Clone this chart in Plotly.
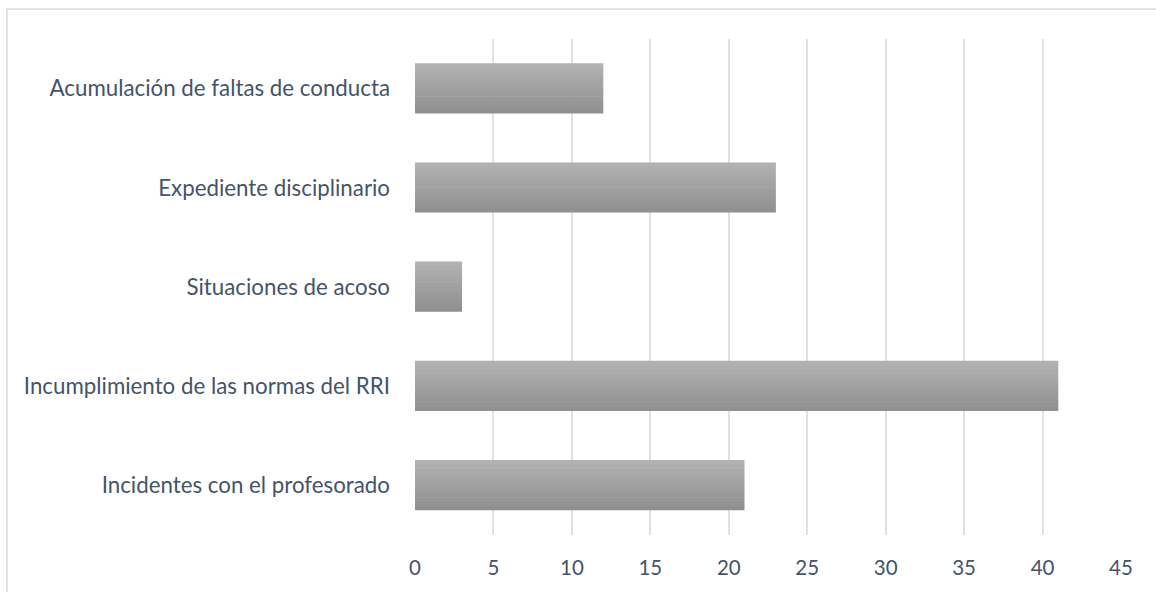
import plotly.graph_objects as go

categories = ["Incidentes con el profesorado", "Incumplimiento de las normas del RRI",
              "Situaciones de acoso", "Expediente disciplinario",
              "Acumulación de faltas de conducta"]
values = [21, 41, 3, 23, 12]
x_ticks = [0, 5, 10, 15, 20, 25, 30, 35, 40, 45]

W, H = 1156, 592
L, R, T, B = 415, 35, 39, 57
pw, ph = W - L - R, H - T - B

fig = go.Figure()
# simulate vertical gradient: light top -> darker bottom
n = 12
bar_w = 0.5
top_c = (177, 177, 177)
bot_c = (144, 144, 144)
for i in range(n):
    f = i / (n - 1)
    c = tuple(int(round(bot_c[k] + (top_c[k] - bot_c[k]) * f)) for k in range(3))
    fig.add_trace(go.Bar(
        y=categories, x=values, orientation="h",
        width=bar_w / n * 1.15, offset=-bar_w / 2 + i * bar_w / n,
        marker=dict(color="rgb(%d,%d,%d)" % c, line=dict(width=0)),
        showlegend=False, hoverinfo="x+y"))

fig.update_layout(
    width=W, height=H, barmode="overlay",
    margin=dict(l=L, r=R, t=T, b=B),
    paper_bgcolor="white", plot_bgcolor="white",
    font=dict(family="Lato, Open Sans, sans-serif", size=20, color="#44546A"),
    xaxis=dict(range=[0, 45], tickvals=x_ticks, showgrid=True, gridcolor="#DCE1EA",
               gridwidth=1.5, zeroline=False, showline=False, ticks="",
               tickfont=dict(size=20.5, color="#44546A"), ticklabelstandoff=18),
    yaxis=dict(categoryorder="array", categoryarray=categories, showgrid=False,
               zeroline=False, showline=False, ticks="",
               tickfont=dict(size=22.3, color="#44546A"), ticklabelstandoff=24),
    shapes=[dict(type="rect", xref="paper", yref="paper",
                 x0=(7 - L) / pw, x1=(W + 10 - L) / pw,
                 y0=-(H + 10 - (T + ph)) / ph, y1=1 + (T - 9) / ph,
                 line=dict(color="#D9D9D9", width=1.5), fillcolor="rgba(0,0,0,0)",
                 layer="below")],
)
fig.write_html("out.html")
